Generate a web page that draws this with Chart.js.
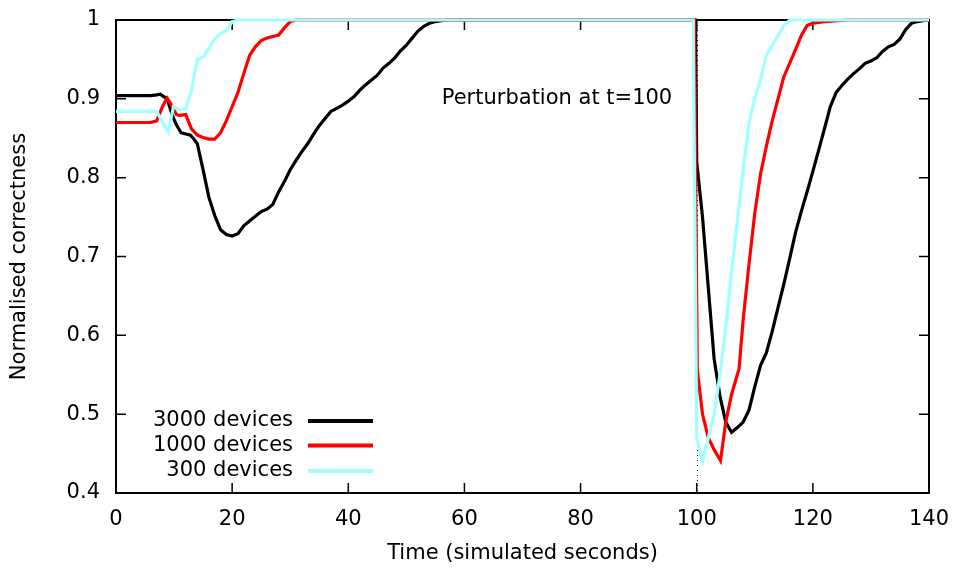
<!DOCTYPE html>
<html>
<head>
<meta charset="utf-8">
<script src="https://cdn.jsdelivr.net/npm/chart.js@4/dist/chart.umd.min.js"></script>
<style>
  html, body { margin: 0; padding: 0; background: #fff; }
  #wrap { width: 955px; height: 569px; }
</style>
</head>
<body>
<div id="wrap"><canvas id="c" width="955" height="569"></canvas></div>
<script>
// ---- data ----
const seriesNames = ["3000 devices", "1000 devices", "300 devices"];
const seriesColors = ["#000000", "#ff0000", "#a0ffff"];

const t3000 = [0,2,4,6,7,7.6,8.8,9.8,10.4,11.2,12.8,13.3,14,15,16,17,18,19,20,21,22,23,24,25,26,27,28,29,30,31,32,33,34,35,36,37,38,39,40,41,42,43,44,45,46,47,48,49,50,51,52,53,54,55,56,57,99.8,100,101,102,103,104,105,106,107,108,109,110,111,112,113,114,115,116,117,118,119,120,121,122,123,124,125,126,127,128,129,130,131,132,133,134,135,136,137,138,139,140];
const v3000 = [0.904,0.904,0.904,0.904,0.905,0.906,0.9,0.877,0.867,0.857,0.854,0.85,0.843,0.81,0.775,0.752,0.734,0.728,0.726,0.729,0.739,0.745,0.751,0.757,0.76,0.766,0.782,0.795,0.81,0.822,0.833,0.843,0.855,0.866,0.875,0.884,0.888,0.892,0.897,0.903,0.911,0.918,0.924,0.93,0.939,0.945,0.952,0.961,0.968,0.977,0.986,0.992,0.996,0.998,0.999,1.0,1.0,0.82,0.75,0.66,0.57,0.523,0.49,0.477,0.483,0.49,0.505,0.535,0.562,0.578,0.605,0.635,0.665,0.697,0.73,0.757,0.782,0.808,0.835,0.862,0.89,0.908,0.917,0.925,0.932,0.938,0.945,0.948,0.952,0.96,0.966,0.969,0.976,0.988,0.996,0.998,0.999,1.0];

const t1000 = [0,2,4,6,7,8,8.8,9.5,10.4,11,12,13,14,15,16,17,18,19,20,21,22,23,24,25,26,27,28,29,30,31,99.6,100.1,101,102,103,104.1,105,106,107.3,108,109,110,111,112,113,114,115,116,117,118,119,120,122,126,140];
const v1000 = [0.87,0.87,0.87,0.87,0.872,0.89,0.901,0.893,0.88,0.879,0.88,0.862,0.854,0.851,0.849,0.849,0.857,0.872,0.89,0.908,0.932,0.955,0.966,0.974,0.977,0.979,0.981,0.99,0.998,1.0,1.0,0.556,0.5,0.47,0.455,0.441,0.49,0.525,0.558,0.62,0.69,0.755,0.805,0.84,0.872,0.9,0.928,0.945,0.962,0.98,0.993,0.996,0.998,1.0,1.0];

const t300 = [0,2,4,6,7,8,9,9.9,11,12,13,14,15,16,17,18,19,20,21,99.4,100,101,102,103,104,105,106,107,108,109,110,111,112,113,114,115,116,140];
const v300 = [0.884,0.884,0.884,0.884,0.884,0.871,0.858,0.89,0.886,0.887,0.911,0.95,0.953,0.964,0.976,0.983,0.986,0.998,1.0,1.0,0.47,0.44,0.47,0.5,0.55,0.61,0.68,0.745,0.81,0.869,0.9,0.925,0.955,0.968,0.98,0.993,1.0,1.0];

const xTicks = [0,20,40,60,80,100,120,140];
const yTicks = [0.4,0.5,0.6,0.7,0.8,0.9,1];
const perturbationTime = 100;
const annotationText = "Perturbation at t=100";
const annotationPos = [56.1, 0.9];

// ---- chart ----
const FONT = "DejaVu Sans";
const FS = 21;
const toPts = (ts, vs) => ts.map((t, i) => ({x: t, y: vs[i]}));
const zeroPad = s => { s.paddingTop = 0; s.paddingBottom = 0; s.paddingLeft = 0; s.paddingRight = 0; };

const frame = {
  id: 'frame',
  beforeDatasetsDraw(chart) {
    const {ctx, chartArea: a, scales: {x, y}} = chart;
    ctx.save();
    const px = Math.round(x.getPixelForValue(perturbationTime)) + 0.5;
    ctx.strokeStyle = '#000';
    ctx.lineWidth = 1;
    ctx.setLineDash([1, 4]);
    ctx.beginPath();
    ctx.moveTo(px, a.top);
    ctx.lineTo(px, a.bottom);
    ctx.stroke();
    ctx.setLineDash([]);
    ctx.lineWidth = 2;
    ctx.strokeRect(a.left, a.top, a.right - a.left, a.bottom - a.top);
    ctx.lineWidth = 1.5;
    const L = 10;
    ctx.beginPath();
    x.ticks.forEach(tk => {
      const p = x.getPixelForValue(tk.value);
      ctx.moveTo(p, a.bottom); ctx.lineTo(p, a.bottom - L);
      ctx.moveTo(p, a.top); ctx.lineTo(p, a.top + L);
    });
    y.ticks.forEach(tk => {
      const p = y.getPixelForValue(tk.value);
      ctx.moveTo(a.left, p); ctx.lineTo(a.left + L, p);
      ctx.moveTo(a.right, p); ctx.lineTo(a.right - L, p);
    });
    ctx.stroke();
    ctx.restore();
  },
  afterDatasetsDraw(chart) {
    const {ctx, chartArea: a, scales: {x, y}} = chart;
    ctx.save();
    ctx.font = FS + 'px "' + FONT + '"';
    ctx.fillStyle = '#000';
    ctx.textBaseline = 'middle';
    ctx.textAlign = 'left';
    ctx.fillText(annotationText, x.getPixelForValue(annotationPos[0]), y.getPixelForValue(annotationPos[1]));
    const rows = [a.bottom - 72, a.bottom - 47.5, a.bottom - 22];
    seriesNames.forEach((n, i) => {
      ctx.textAlign = 'right';
      ctx.fillStyle = '#000';
      ctx.fillText(n, a.left + 177, rows[i]);
      ctx.strokeStyle = seriesColors[i];
      ctx.lineWidth = 4;
      ctx.beginPath();
      ctx.moveTo(a.left + 192, rows[i]);
      ctx.lineTo(a.left + 257, rows[i]);
      ctx.stroke();
    });
    ctx.restore();
  }
};

const datasets = [
  {label: seriesNames[0], data: toPts(t3000, v3000), borderColor: seriesColors[0], order: 3},
  {label: seriesNames[1], data: toPts(t1000, v1000), borderColor: seriesColors[1], order: 2},
  {label: seriesNames[2], data: toPts(t300, v300), borderColor: seriesColors[2], order: 1}
].map(d => Object.assign(d, {borderWidth: 3.2, pointRadius: 0, tension: 0, fill: false, clip: 4}));

new Chart(document.getElementById('c'), {
  type: 'line',
  data: {datasets},
  options: {
    responsive: false,
    animation: false,
    devicePixelRatio: 1,
    layout: {padding: {left: 0, right: 26, top: 20, bottom: 0}},
    plugins: {legend: {display: false}, tooltip: {enabled: false}},
    scales: {
      x: {
        type: 'linear', min: 0, max: 140,
        afterBuildTicks: s => { s.ticks = xTicks.map(v => ({value: v})); },
        ticks: {color: '#000', font: {family: FONT, size: FS}, padding: 14, maxRotation: 0},
        grid: {display: false, drawTicks: false},
        border: {display: false},
        title: {display: true, text: 'Time (simulated seconds)', color: '#000', font: {family: FONT, size: FS}, padding: {top: 0, bottom: 3}},
        afterFit: s => { s.height = 76; zeroPad(s); }
      },
      y: {
        type: 'linear', min: 0.4, max: 1,
        afterBuildTicks: s => { s.ticks = yTicks.map(v => ({value: v})); },
        ticks: {color: '#000', font: {family: FONT, size: FS}, padding: 16, callback: v => String(Math.round(v * 10) / 10)},
        grid: {display: false, drawTicks: false},
        border: {display: false},
        title: {display: true, text: 'Normalised correctness', color: '#000', font: {family: FONT, size: FS}, padding: {top: 7, bottom: 0}},
        afterFit: s => { s.width = 116; zeroPad(s); }
      }
    }
  },
  plugins: [frame]
});
</script>
</body>
</html>
